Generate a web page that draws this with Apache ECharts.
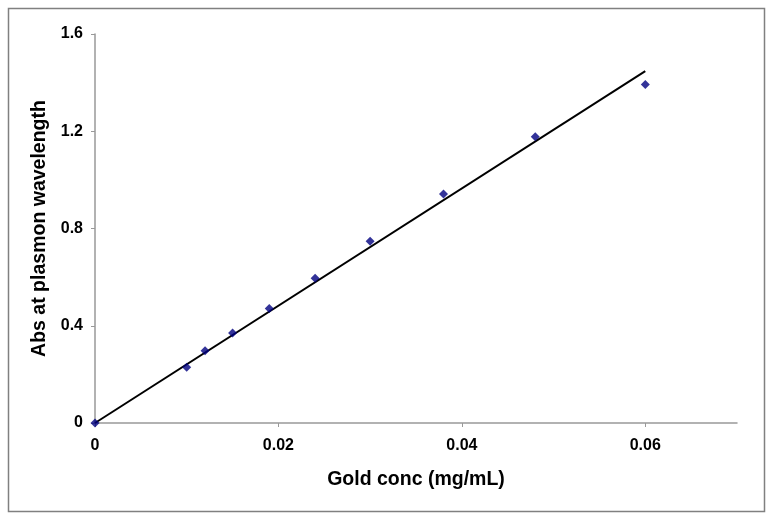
<!DOCTYPE html>
<html>
<head>
<meta charset="utf-8">
<script src="https://cdn.jsdelivr.net/npm/echarts@6/dist/echarts.min.js"></script>
<style>
  html, body { margin: 0; padding: 0; background: #fff; }
  #chart { width: 774px; height: 520px; }
</style>
</head>
<body>
<div id="chart"></div>
<script>
// measured points
const concValues = [0, 0.010, 0.012, 0.015, 0.019, 0.024, 0.030, 0.038, 0.048, 0.060];
const absValues = [0, 0.229, 0.297, 0.370, 0.471, 0.595, 0.748, 0.942, 1.177, 1.392];
// fitted trend line ends
const fitConc = [0, 0.060];
const fitAbs = [0, 1.447];
const xTicks = [0, 0.02, 0.04, 0.06];
const yTicks = [0, 0.4, 0.8, 1.2, 1.6];

let chartDom = document.getElementById('chart');
let myChart = echarts.init(chartDom);

const points = concValues.map((c, i) => [c, absValues[i]]);
const fitLine = fitConc.map((c, i) => [c, fitAbs[i]]);

let option = {
    animation: false,
    graphic: [{
        type: 'rect',
        shape: { x: 8.5, y: 8.5, width: 756, height: 503 },
        style: { fill: 'none', stroke: '#808080', lineWidth: 1.5 }
    }],
    grid: {
        left: 95,
        top: 34,
        width: 642,
        height: 389
    },
    xAxis: {
        type: 'value',
        min: 0,
        max: 0.07,
        interval: 0.01,
        name: 'Gold conc (mg/mL)',
        nameLocation: 'middle',
        nameGap: 47,
        nameTextStyle: {
            color: '#000',
            fontFamily: 'Liberation Sans',
            fontWeight: 'bold',
            fontSize: 19.5
        },
        axisLine: { lineStyle: { color: '#999', width: 1.5 } },
        axisTick: {
            length: 4,
            lineStyle: { color: '#999' },
            customValues: xTicks
        },
        axisLabel: {
            customValues: xTicks,
            margin: 15,
            color: '#000',
            fontFamily: 'Liberation Sans',
            fontWeight: 'bold',
            fontSize: 16
        },
        splitLine: { show: false }
    },
    yAxis: {
        type: 'value',
        min: 0,
        max: 1.6,
        interval: 0.4,
        name: 'Abs at plasmon wavelength',
        nameLocation: 'middle',
        nameGap: 44,
        nameTextStyle: {
            color: '#000',
            fontFamily: 'Liberation Sans',
            fontWeight: 'bold',
            fontSize: 19.5
        },
        axisLine: { show: true, lineStyle: { color: '#999', width: 1.5 } },
        axisTick: {
            show: true,
            length: 4,
            lineStyle: { color: '#999' },
            customValues: yTicks
        },
        axisLabel: {
            customValues: yTicks,
            margin: 12,
            color: '#000',
            fontFamily: 'Liberation Sans',
            fontWeight: 'bold',
            fontSize: 16
        },
        splitLine: { show: false }
    },
    series: [
        {
            type: 'line',
            data: fitLine,
            symbol: 'none',
            lineStyle: { color: '#000', width: 2 },
            z: 2
        },
        {
            type: 'scatter',
            data: points,
            symbol: 'diamond',
            symbolSize: 9,
            itemStyle: { color: '#000080' },
            z: 3
        }
    ]
};

option && myChart.setOption(option);
</script>
</body>
</html>
